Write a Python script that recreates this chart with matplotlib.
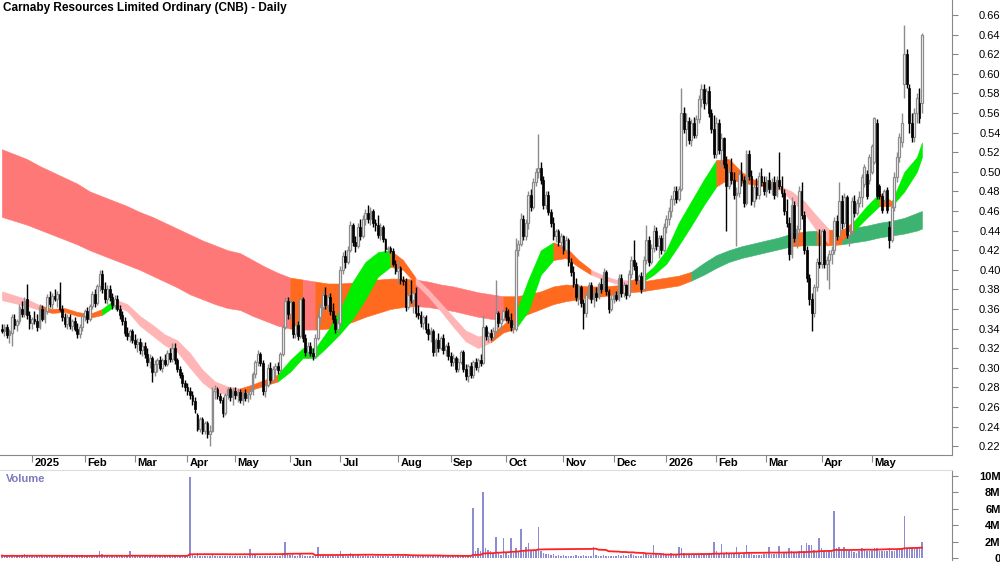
import numpy as np
import pandas as pd
import matplotlib
matplotlib.use("Agg")
import matplotlib.pyplot as plt
from matplotlib.transforms import blended_transform_factory

plt.rcParams['font.family'] = ['Liberation Sans', 'DejaVu Sans']

title = "Carnaby Resources Limited Ordinary (CNB) - Daily"

# ASX trading days shown on the chart
first_day, last_day = "2024-12-12", "2026-05-29"
asx_holidays = ["2024-12-25", "2024-12-26", "2025-01-01", "2025-01-27",
                "2025-04-18", "2025-04-21", "2025-04-25", "2025-06-09",
                "2025-12-25", "2025-12-26", "2026-01-01", "2026-01-26",
                "2026-04-03", "2026-04-06"]

# daily bars: (open, high, low, close) in cents, volume in millions
dec24 = [(34, 34.5, 33.5, 33.8, .3), (33.8, 34.5, 33.2, 34.2, .2), (34.2, 34.5, 33, 33.3, .3),
         (33.3, 34, 32.5, 33.8, .2), (33.5, 35.5, 32.2, 35.2, .4), (35, 35.5, 34, 34.4, .2),
         (34.4, 35, 33.8, 34.8, .2), (34.8, 36.5, 34.5, 36.2, .3), (36, 36.8, 35.2, 35.5, .2),
         (35.5, 37.2, 35.2, 36.8, .5), (37, 38.6, 35, 35.4, .4), (35.4, 35.8, 34, 34.6, .2)]
jan25 = [(34.6, 35.2, 34, 35, .2), (35, 35.8, 34.5, 34.8, .2), (34.8, 35.5, 33.8, 34.2, .3),
         (34.2, 36.5, 34, 36.2, .4), (36, 36.4, 34.8, 35, .2), (35, 36, 34.6, 35.8, .2),
         (35.8, 37.5, 35.5, 37.2, .3), (37.2, 37.8, 36.2, 36.5, .2), (36.5, 37.6, 36, 37.3, .2),
         (37.3, 38, 36.8, 37, .4), (37, 37.8, 36.2, 37.5, .2), (37.5, 38.8, 35.8, 36, .3),
         (36, 36.4, 34.8, 35.2, .2), (35.2, 35.6, 34.2, 34.5, .2), (34.5, 35.5, 34, 35.2, .2),
         (35.2, 35.5, 34, 34.3, .2), (34.3, 35, 33.8, 34.8, .2), (34.8, 35.2, 33.8, 34, .2),
         (34, 34.6, 33, 33.4, .3), (33.4, 34.5, 33, 34.2, .2), (34.2, 35.5, 33.8, 35.3, .3)]
feb25 = [(35.3, 36, 34.8, 35.8, .2), (35.8, 36.2, 34.6, 35, .2), (35, 36.5, 34.8, 36.3, .3),
         (36.3, 37.8, 36, 37.5, .4), (37.5, 38, 36.2, 36.6, .2), (36.6, 38.6, 36.4, 38.3, .3),
         (38.3, 40, 37.8, 39.6, .8), (39.6, 40, 37.6, 38, .5), (38, 38.8, 36.6, 37, .3),
         (37, 38.4, 36.5, 38, .2), (38, 38.4, 36.8, 37.2, .2), (37.2, 37.6, 36, 36.4, .2),
         (36.4, 37.4, 36, 37, .2), (37, 37.4, 35.8, 36, .3), (36, 36.4, 35, 35.4, .2),
         (35.4, 35.8, 34.4, 34.8, .2), (34.8, 35.2, 33.2, 33.6, .3), (33.6, 34.2, 32.8, 33.2, .2),
         (33.2, 34, 32.6, 33.8, .9), (33.8, 34, 32.5, 32.8, .3)]
mar25 = [(32.8, 33.4, 32, 32.4, .2), (32.4, 33, 31.6, 32.6, .2), (32.6, 33, 31.4, 31.8, .2),
         (31.8, 32.6, 31.2, 32.2, .2), (32.2, 32.6, 31, 31.4, .2), (31.4, 32, 30.2, 30.6, .3),
         (30.6, 31.4, 30, 31, .2), (31, 31.2, 28.6, 29.6, .4), (29.6, 30.8, 29.2, 30.4, .2),
         (30.4, 31, 29.6, 30.8, .2), (30.8, 31.2, 29.8, 30, .2), (30, 31, 29.6, 30.8, .2),
         (30.8, 31.4, 30.2, 30.4, .2), (30.4, 31.8, 30.2, 31.5, .2), (31.5, 32, 30.6, 30.9, .2),
         (30.9, 32.5, 30.6, 32, .3), (32, 32.5, 30.4, 30.8, .2), (30.8, 31, 29.6, 29.9, .2),
         (29.9, 30.2, 29, 29.3, .2), (29.3, 29.6, 28, 28.4, .2), (28.4, 28.8, 27.6, 28, .2)]
apr25 = [(28, 28.4, 27.2, 27.6, .3), (27.6, 28, 26.8, 27.2, 9.9), (27.2, 27.6, 26.2, 26.6, .4),
         (26.6, 27, 25.4, 25.8, .3), (25.2, 25.4, 23.6, 23.8, .6), (23.8, 25, 23.4, 24.8, .3),
         (24.8, 25, 23.2, 23.6, .2), (23.6, 24.6, 23.2, 24.4, .2), (24.4, 24.6, 22.8, 23.2, .3),
         (23.2, 24.2, 22, 23.6, .3), (23.6, 28, 23.4, 27.6, .5), (27.6, 28.2, 26.8, 27.8, .3),
         (27.8, 28, 26.8, 27.1, .2), (27.1, 27.4, 26.4, 26.7, .2), (26.7, 27, 25, 25.4, .3),
         (25.4, 27.4, 25.2, 27.2, .2), (27.2, 28, 26.8, 27.8, .2), (27.8, 28, 26.6, 27, .2),
         (27, 27.9, 26.2, 27.6, .2)]
may25 = [(27.6, 28, 26.8, 27.2, .3), (27.2, 27.8, 26.5, 27.5, .2), (27.5, 27.8, 26.4, 26.7, .2),
         (26.7, 27.6, 26.2, 27.4, .2), (27.4, 27.8, 26.6, 26.9, .2), (26.9, 27.6, 26.5, 27.3, .2),
         (27.3, 28, 26.8, 27.6, 1.1), (27.6, 29.6, 27.2, 29.4, .4), (29.4, 30.8, 29, 30.6, .4),
         (30.6, 31.8, 30.2, 31.4, .3), (31.4, 31.6, 30.2, 30.5, .2), (30.5, 30.8, 27.2, 27.6, .3),
         (27.6, 28.4, 27, 28.2, .2), (28.2, 30.4, 28, 30, .3), (30, 30.6, 28.4, 28.8, .2),
         (28.8, 30.2, 28.6, 29.9, .2), (29.9, 30.5, 29.2, 30.2, .2), (30.2, 30.6, 29.4, 29.8, .2),
         (29.8, 31.6, 29.6, 31.4, .3), (31.4, 34.4, 31.2, 34.2, .6), (34.2, 37.2, 34, 36.8, 2.0),
         (36.8, 37.2, 35, 35.5, .6)]
jun25 = [(35.5, 37, 35, 36.7, .4), (36.7, 36.8, 33, 33.4, .5), (33.4, 34.6, 33, 34.4, .3),
         (34.4, 34.8, 32.8, 33.2, .3), (33.2, 37.2, 33, 37, .5), (37, 37.2, 32.6, 33, .4),
         (33, 33.4, 31.2, 31.6, .3), (31.6, 32.6, 31, 32.2, .2), (32.2, 32.6, 31.2, 31.5, .2),
         (31.5, 32, 30.8, 31.2, .3), (31.2, 33.4, 31, 33, .3), (33, 35.5, 32.8, 35.2, 1.4),
         (35.2, 36.6, 34.6, 36.2, .4), (36.2, 37.8, 35.6, 37.4, .4), (37.4, 38.2, 36, 36.4, .3),
         (36.4, 37.6, 35.8, 37.2, .2), (37.2, 37.6, 35.4, 35.8, .3), (35.8, 36.6, 34.6, 35, .2),
         (35, 35.4, 33.6, 34, .3), (34, 35, 33.5, 34.6, .3)]
jul25 = [(34.6, 40.4, 34.4, 40, .8), (40, 41.8, 39.6, 41.4, .4), (41.4, 42, 40.2, 40.8, .3),
         (40.8, 42.4, 40.6, 42, .3), (42, 45, 41.8, 44.6, .6), (44.6, 44.8, 42.4, 42.8, .4),
         (42.8, 43.4, 41.8, 42.4, .3), (42.4, 44.8, 42.2, 44.4, .4), (44.4, 45.2, 43, 43.4, .3),
         (43.4, 45.6, 43.2, 45.2, .3), (45.2, 46.2, 44.6, 45.8, .4), (45.8, 46.6, 44.8, 45.2, .3),
         (45.2, 46.4, 44.6, 46, .3), (46, 46.2, 44.4, 44.8, .2), (44.8, 45.2, 44, 44.6, .2),
         (44.6, 45.6, 43.2, 43.6, .3), (43.6, 44.8, 43, 44.4, .2), (44.4, 44.6, 42.8, 43.1, .3),
         (43.1, 43.2, 41.8, 42.1, .2), (42.1, 42.4, 41.6, 42.2, .2), (42.2, 42.4, 41.7, 41.9, .1),
         (41.9, 42.2, 40.4, 40.6, .2), (40.6, 41, 39.6, 39.9, .2)]
aug25 = [(39.9, 41, 38.6, 40.2, .3), (40.2, 40.4, 38.6, 39, .2), (39, 39.4, 38.4, 38.9, .2),
         (38.9, 39.2, 35.8, 36.2, .4), (36.2, 37.6, 36, 37.4, .2), (37.4, 39, 36.6, 36.9, .3),
         (36.9, 37.8, 35.6, 37.6, .2), (37.6, 38.2, 35.2, 35.6, .3), (35.6, 36.4, 35, 35.4, .2),
         (35.4, 35.8, 34.2, 34.6, .2), (34.6, 35.4, 34, 35.2, .2), (35.2, 35.4, 33.6, 34, .2),
         (34, 34.6, 32.8, 33.4, .2), (33.4, 34.2, 32.6, 33.8, .2), (33.8, 34, 31.2, 31.6, .3),
         (31.6, 33, 31.2, 32.8, .2), (32.8, 33.6, 31.6, 32, .2), (32, 33.2, 31.8, 33, .2),
         (33, 33.4, 31.4, 31.8, .2), (31.8, 32.4, 31.2, 32.2, .2), (32.2, 32.6, 30.8, 31.2, .2)]
sep25 = [(31.2, 31.6, 30.2, 30.6, .2), (30.6, 31.4, 30.2, 31, .2), (31, 31.2, 29.6, 29.9, .2),
         (29.9, 31, 29.6, 30.6, .2), (30.6, 31.8, 30.4, 31.6, .2), (31.6, 31.8, 29.6, 29.9, .3),
         (29.9, 30.4, 28.8, 29.2, .3), (29.2, 30.4, 28.6, 30.2, .2), (30.2, 30.6, 29, 29.3, .3),
         (29.3, 30.8, 29, 30.6, 6.1), (30.6, 31, 29.8, 30.1, .8), (30.1, 31, 29.6, 30.8, 1.2),
         (30.8, 31.4, 30.2, 30.5, .8), (30.5, 35.4, 30.4, 34.2, 8.0), (34.2, 34.4, 32.8, 33.2, 1.2),
         (33.2, 33.8, 32.6, 33.6, 1.0), (33.6, 34, 32.8, 33.1, .8), (33.1, 34.2, 32.8, 33.8, .6),
         (33.8, 39, 33.6, 35.6, 2.6), (35.6, 35.8, 34.2, 34.6, .6), (34.6, 35.2, 33.8, 35, .4),
         (35, 36, 34.8, 35.8, 2.4)]
oct25 = [(35.8, 36.2, 34.8, 35.2, .6), (35.2, 36, 34.6, 34.9, .4), (34.9, 35.6, 33.8, 34.2, 2.5),
         (34.2, 34.8, 33.6, 34.4, .6), (34, 43.2, 33.8, 42, 1.2), (42, 43, 41.4, 42.6, .8),
         (42.6, 45.8, 42.4, 45.2, 3.5), (45.2, 45.6, 43, 43.4, 1.0), (43.4, 45.2, 43, 44.8, 1.4),
         (44.8, 48, 44.2, 47.6, 1.8), (47.6, 48.2, 46, 46.4, .9), (46.4, 49.4, 46.2, 49, 1.0),
         (49, 50.4, 48.6, 50, .8), (50, 53.9, 49.4, 50.4, 3.8), (50.4, 51, 48.8, 49.2, .8),
         (49.2, 49.6, 46.2, 46.6, .6), (46.6, 48, 46.2, 47.6, .5), (47.6, 48, 45.6, 45.9, .5),
         (45.9, 46.2, 44.4, 44.8, .4), (44.8, 45.4, 43, 43.4, .5), (43.4, 44.2, 42.8, 44, .3),
         (44, 44.2, 42.4, 42.8, .4), (42.8, 43.8, 42.2, 43.4, .3)]
nov25 = [(43.4, 43.6, 41.6, 42, .4), (42, 43.4, 41.8, 43, .3), (43, 43.2, 40.4, 40.8, .3),
         (40.8, 41.2, 39.4, 39.8, .3), (39.8, 40.4, 38.2, 38.6, .3), (38.6, 39.2, 36.8, 37.2, .4),
         (37.2, 38.6, 36.4, 38.2, .3), (38.2, 38.4, 36.2, 36.6, .3), (36.6, 37, 34, 35.6, .4),
         (35.6, 37.8, 35.2, 37.4, .3), (37.4, 38.8, 37, 38.4, .3), (38.4, 38.8, 36.6, 37, .3),
         (37, 38, 36.2, 37.6, 1.4), (37.6, 38.2, 36.8, 37.2, .4), (37.2, 38.8, 37, 38.5, .3),
         (38.5, 39.2, 37.6, 38, .3), (38, 40.2, 37.8, 39.8, .4), (39.8, 40, 37.4, 37.8, .3),
         (37.8, 38, 35.6, 36, .3), (36, 37.4, 35.8, 37, .3)]
dec25 = [(37, 37.8, 36.6, 37.4, .3), (37.4, 37.8, 36.8, 37, .3), (37, 39.6, 36.8, 39.2, .4),
         (39.2, 39.6, 37.2, 37.6, .3), (37.6, 38.8, 37.2, 38.4, .4), (38.4, 38.6, 37, 37.4, .3),
         (37.4, 40, 37.2, 39.6, .4), (39.6, 41.4, 39.2, 41, .5), (41, 43, 40, 40.4, .4),
         (40.4, 40.8, 38.6, 39, .3), (39, 39.6, 38.4, 39.4, .3), (39.4, 39.8, 37.6, 38, .3),
         (38, 41.4, 37.8, 41, .5), (41, 44.6, 40.6, 43, .6), (43, 43.4, 40.4, 40.8, .4),
         (40.8, 42.6, 40.6, 42.2, .4), (42.2, 44.6, 41.8, 44, 1.6), (44, 44.4, 42, 42.4, .5),
         (42.4, 43.6, 41.2, 43.2, .4), (43.2, 43.6, 41.6, 42, .4), (42, 44.8, 41.8, 44.4, .6)]
jan26 = [(44.4, 45.6, 43.8, 45.2, .5), (45.2, 46.4, 44.6, 46, .5), (46, 47.6, 45.4, 47.2, .6),
         (47.2, 48.6, 46.6, 48, .5), (48, 48.6, 46.8, 47.2, .4), (47.2, 48.6, 47, 48.2, 1.4),
         (48.2, 58.5, 48, 56, 1.2), (56, 56.6, 54, 54.4, .6), (54.4, 56, 52.6, 55.2, .5),
         (55.2, 55.6, 52.8, 53.2, .4), (53.2, 55.4, 52.6, 55, .4), (55, 55.6, 53.4, 53.8, .4),
         (53.8, 55.8, 53.4, 55.4, .4), (55.4, 57.8, 55, 57.4, .5), (57.4, 59, 56.6, 58.4, .6),
         (58.4, 59, 56.4, 57, .5), (57, 58.6, 56.8, 58.2, .5), (58.2, 58.8, 55.6, 56, .6),
         (56, 56.4, 54, 54.4, .5), (54.4, 55.8, 51.4, 51.8, 1.9)]
feb26 = [(51.8, 55.6, 51.4, 55, .8), (55, 55.4, 51.8, 52.2, .6), (52.2, 54, 50.4, 53.4, 1.7),
         (53.4, 53.6, 50.4, 50.8, .6), (50.8, 51.6, 44, 48.6, .7), (48.6, 50.4, 48.2, 50, .5),
         (50, 51.4, 48.8, 49.2, .5), (49.2, 50, 47.2, 47.6, .5), (47.6, 48.4, 42.4, 47.8, 1.4),
         (47.8, 50.2, 47.4, 49.8, .5), (49.8, 51, 48.6, 49.2, .4), (49.2, 49.6, 46.4, 46.8, .5),
         (46.8, 52.2, 46.6, 51.8, 1.6), (51.8, 52.2, 49.2, 49.6, .6), (49.6, 50.2, 46.6, 47, .5),
         (47, 48.8, 46.4, 48.4, .4), (48.4, 49.4, 47.2, 47.6, .4), (47.6, 50, 47.2, 49.6, .4),
         (49.6, 50.4, 48.6, 49, .4), (49, 49.6, 47.6, 48, .5)]
mar26 = [(48, 49.6, 47.4, 49.2, .5), (49.2, 50, 47.8, 48.2, 1.4), (48.2, 49.4, 47.6, 49, .5),
         (49, 49.6, 47.2, 47.6, .5), (47.6, 49.6, 47.4, 49.2, .5), (49.2, 52, 48.2, 48.6, 1.5),
         (48.6, 49.6, 47.4, 47.8, .5), (47.8, 48.2, 45.6, 46, .6), (46, 47.2, 44.4, 44.8, .7),
         (44.8, 45.4, 41, 41.6, 1.2), (41.6, 47.4, 41.2, 46.6, .8), (46.6, 47, 42.8, 43.2, .7),
         (43.2, 44.6, 42.2, 44.2, .6), (44.2, 48.6, 43.8, 48, .8), (48, 49, 45.2, 45.6, 1.6),
         (45.6, 46, 41.6, 42, .9), (42, 42.4, 38.8, 39.2, 1.8), (39.2, 39.6, 36.4, 37, 1.6),
         (37, 37.6, 33.8, 35.6, 1.6), (35.6, 38.6, 35.2, 38.2, 1.0), (38.2, 41.2, 37.8, 40.8, .8),
         (40.8, 44.2, 40.2, 40.6, 2.4)]
apr26 = [(40.6, 44.2, 40.2, 44, 1.2), (44, 44.2, 40.2, 40.6, .9), (40.6, 41.4, 39, 41, .7),
         (41, 42, 38, 41.6, .9), (41.6, 42.4, 40.6, 42, .8), (42, 45.4, 41.6, 45, 5.7),
         (45, 45.6, 43, 43.4, 1.2), (43.4, 49, 43.2, 47, 1.4), (47, 47.6, 44.2, 44.8, .9),
         (44.8, 47.8, 44.4, 47.4, 1.3), (47.4, 47.6, 43.2, 43.6, 1.0), (43.6, 44.4, 42.4, 44, .8),
         (44, 47.4, 43.6, 47, .9), (47, 47.6, 45.4, 45.8, .7), (45.8, 47.2, 45.6, 46.8, .6),
         (46.8, 48, 46.4, 47.4, .8), (47.4, 49.8, 46.4, 49.5, 1.2), (48.8, 50.8, 48.4, 50.5, 1.0),
         (49.8, 50.2, 47.2, 47.5, .8), (49.2, 51.8, 48.8, 51.5, .9)]
may26 = [(50, 52.8, 49.8, 52.6, .8), (51, 55.6, 50.8, 55.5, 1.2), (55, 55.4, 47.2, 47.5, 1.2),
         (48.5, 48.8, 47.2, 47.5, .8), (47.5, 47.8, 45.8, 46.1, .9), (47.1, 48.2, 46.8, 48, .8),
         (48.1, 48.4, 45.8, 46.1, .9), (44.4, 45, 42.2, 43, 1.2), (43, 46.8, 42.8, 46.4, .8),
         (46.4, 50, 46, 49.5, .9), (49.5, 52, 49, 51.5, 1.0), (51.5, 54, 51, 53.5, 1.1),
         (53, 56, 52.5, 55, 1.2), (59, 65, 57.5, 62, 5.1), (62, 62.5, 58.5, 59, 1.2),
         (58.5, 59, 54, 55, 1.2), (55, 56, 53, 53.5, 1.3), (53.5, 56.5, 53, 56, 1.1),
         (56, 58, 55, 57.5, 1.4), (57, 58.5, 55, 55.5, 1.2), (57, 64.2, 56, 64, 1.9)]

# moving-average ribbons, read every 5th bar (cents)
ribbon_idx = list(range(0, 366, 5)) + [367]
long_top = [52.3, 51.8, 51.3, 50.6, 50.0, 49.4, 48.8, 48.0, 47.5, 47.0,
            46.5, 45.9, 45.4, 44.8, 44.2, 43.6, 43.0, 42.5, 42.0, 41.7,
            41.0, 40.3, 39.7, 39.2, 39.0, 38.8, 38.6, 38.6, 38.7, 38.9,
            39.0, 39.1, 39.1, 39.0, 38.8, 38.5, 38.3, 38.0, 37.7, 37.5,
            37.3, 37.3, 37.5, 37.8, 38.3, 38.5, 38.4, 38.3, 38.3, 38.4,
            38.6, 38.8, 39.0, 39.2, 39.4, 39.8, 40.7, 41.5, 42.0, 42.4,
            42.7, 43.0, 43.3, 43.7, 43.9, 44.0, 44.0, 44.1, 44.3, 44.5,
            44.8, 45.0, 45.3, 45.8, 46.0]
long_bot = [45.4, 45.0, 44.6, 44.1, 43.6, 43.1, 42.6, 42.0, 41.5, 41.0,
            40.5, 40.0, 39.4, 38.8, 38.2, 37.5, 37.0, 36.5, 36.1, 35.9,
            35.3, 34.8, 34.3, 34.0, 33.9, 33.9, 34.0, 34.3, 34.7, 35.2,
            35.6, 36.0, 36.2, 36.3, 36.2, 36.0, 35.8, 35.5, 35.2, 35.0,
            34.9, 35.0, 35.5, 36.0, 36.5, 36.8, 37.0, 37.2, 37.3, 37.5,
            37.7, 37.8, 38.0, 38.2, 38.4, 38.9, 39.5, 40.2, 40.8, 41.2,
            41.5, 41.8, 42.1, 42.4, 42.5, 42.5, 42.5, 42.6, 42.8, 43.0,
            43.3, 43.5, 43.7, 44.0, 44.2]
short_top = [37.8, 37.4, 37.0, 36.4, 36.0, 36.1, 35.7, 35.5, 36.0, 37.0,
             36.5, 35.3, 34.4, 33.4, 32.8, 31.5, 29.8, 28.6, 28.1, 27.9,
             28.3, 28.8, 29.3, 30.8, 32.0, 32.0, 33.8, 36.0, 38.8, 40.8,
             41.8, 42.0, 41.0, 39.2, 38.0, 36.6, 35.2, 33.8, 33.2, 33.5,
             34.4, 35.6, 39.0, 42.0, 42.8, 42.3, 41.0, 40.0, 39.4, 39.0,
             38.9, 39.2, 40.3, 42.0, 44.8, 47.0, 49.2, 51.2, 51.3, 50.0,
             49.2, 48.9, 48.6, 48.0, 47.0, 45.5, 44.1, 44.0, 45.0, 46.5,
             47.8, 47.0, 50.0, 51.5, 53.0]
short_bot = [36.9, 36.6, 36.3, 35.9, 35.6, 35.7, 35.3, 35.1, 35.4, 36.3,
             35.8, 34.3, 33.3, 32.3, 31.6, 30.0, 28.5, 27.5, 27.3, 27.1,
             27.8, 28.2, 28.6, 29.6, 31.0, 31.0, 32.2, 33.5, 35.0, 37.0,
             39.3, 40.3, 40.0, 38.6, 37.3, 35.8, 34.2, 32.7, 32.0, 32.6,
             33.6, 34.0, 35.8, 39.5, 41.0, 41.2, 40.3, 39.5, 39.0, 38.6,
             38.5, 38.7, 39.5, 40.6, 42.5, 44.5, 46.6, 48.5, 49.3, 48.9,
             48.7, 48.5, 48.2, 47.1, 45.8, 44.0, 42.6, 43.0, 44.0, 45.3,
             46.5, 46.5, 48.0, 50.0, 51.5]
# trend state per 5-bar step: R falling, O mixed, G rising (runs of steps)
long_runs = [("R", 23), ("O", 1), ("R", 1), ("O", 8), ("R", 7), ("O", 15),
             ("G", 8), ("O", 1), ("G", 1), ("O", 2), ("G", 7)]
short_runs = [("R", 3), ("O", 5), ("G", 1), ("R", 10), ("O", 3), ("G", 9), ("O", 2),
              ("R", 6), ("O", 2), ("G", 3), ("O", 3), ("R", 3), ("O", 1), ("G", 6),
              ("O", 5), ("R", 4), ("O", 2), ("G", 2), ("O", 1), ("G", 3)]
long_colors = {"R": "#ff7878", "O": "#ff6a1e", "G": "#3cb371"}
short_colors = {"R": "#ffb5b5", "O": "#ff6a1e", "G": "#00ee00"}

months = [dec24, jan25, feb25, mar25, apr25, may25, jun25, jul25, aug25,
          sep25, oct25, nov25, dec25, jan26, feb26, mar26, apr26, may26]
rows = np.array([r for m in months for r in m], dtype=float)
opens, highs, lows, closes = rows[:, :4].T / 100
volume = rows[:, 4]
n = len(rows)
x = np.arange(n)

dates = pd.bdate_range(first_day, last_day, freq="C", holidays=asx_holidays)[:n]

fig = plt.figure(figsize=(10, 5.62), dpi=100)
ax = fig.add_axes([0, 107 / 562, 0.952, 455 / 562])
axv = fig.add_axes([0, 2 / 562, 0.952, 90 / 562])


def draw_ribbon(top, bot, runs, colors):
    top = np.array(top) / 100
    bot = np.array(bot) / 100
    xs = np.array(ribbon_idx)
    s = 0
    for code, cnt in runs:
        e = s + cnt
        ax.fill_between(xs[s:e + 1], bot[s:e + 1], top[s:e + 1], color=colors[code],
                        linewidth=0.4, zorder=1)
        s = e


draw_ribbon(long_top, long_bot, long_runs, long_colors)
draw_ribbon(short_top, short_bot, short_runs, short_colors)

up = closes >= opens
dn = ~up
ax.vlines(x[up], lows[up], highs[up], color="#8c8c8c", lw=1.0, zorder=3)
ax.vlines(x[dn], lows[dn], highs[dn], color="black", lw=1.0, zorder=3)
body = np.maximum(np.abs(closes - opens), 0.0008)
ax.bar(x[up], body[up], bottom=opens[up], width=0.72, facecolor="white",
       edgecolor="#8c8c8c", linewidth=0.9, zorder=4)
ax.bar(x[dn], body[dn], bottom=closes[dn], width=0.72, color="black",
       edgecolor="black", linewidth=0.5, zorder=4)

ax.set_xlim(-0.76, 379.0)
ax.set_ylim(0.2110, 0.6753)
ax.yaxis.tick_right()
ax.set_yticks(np.arange(0.22, 0.665, 0.02))
ax.set_yticklabels([f"{v:.2f}" for v in np.arange(0.22, 0.665, 0.02)])
ax.tick_params(axis="y", length=4, color="#888888", labelsize=8, pad=31)
for lab in ax.get_yticklabels():
    lab.set_horizontalalignment("right")
for side in ["top", "left"]:
    ax.spines[side].set_visible(False)
for side in ["right", "bottom"]:
    ax.spines[side].set_color("#888888")

mstart = [k for k in range(1, n) if dates[k].month != dates[k - 1].month]
ax.set_xticks(mstart)
ax.set_xticklabels([])
ax.tick_params(axis="x", length=5, color="#888888")
tr = blended_transform_factory(ax.transData, ax.transAxes)
for k in mstart:
    lab = str(dates[k].year) if dates[k].month == 1 else dates[k].strftime("%b")
    ax.text(k + 0.9, -0.018, lab, transform=tr, ha="left", va="center",
            fontsize=8, fontweight="bold")

fig.text(0.003, 1 - 8 / 562, title, ha="left", va="center", fontsize=8.5,
         fontweight="bold", family=["Liberation Sans Narrow", "Liberation Sans"])

# volume panel
vol_ma = pd.Series(volume).rolling(50, min_periods=1).mean()
axv.bar(x, volume, width=0.6, color="#8c8cd2", linewidth=0)
axv.plot(x, vol_ma, color="#ff2020", lw=1.3)
axv.set_xlim(ax.get_xlim())
axv.set_ylim(-0.24, 10.73)
axv.yaxis.tick_right()
axv.set_yticks([0, 2, 4, 6, 8, 10])
axv.set_yticklabels(["0", "2M", "4M", "6M", "8M", "10M"])
axv.tick_params(axis="y", length=4, color="#888888", labelsize=8, pad=31)
for lab in axv.get_yticklabels():
    lab.set_horizontalalignment("right")
    lab.set_fontweight("bold")
axv.set_xticks([])
axv.spines["left"].set_visible(False)
axv.spines["bottom"].set_visible(False)
axv.spines["top"].set_color("#dddddd")
axv.spines["right"].set_color("#888888")
axv.text(0.006, 0.9, "Volume", transform=axv.transAxes, ha="left", va="center",
         fontsize=8, fontweight="bold", color="#7b7bc0")

fig.savefig("out.png", dpi=100)
